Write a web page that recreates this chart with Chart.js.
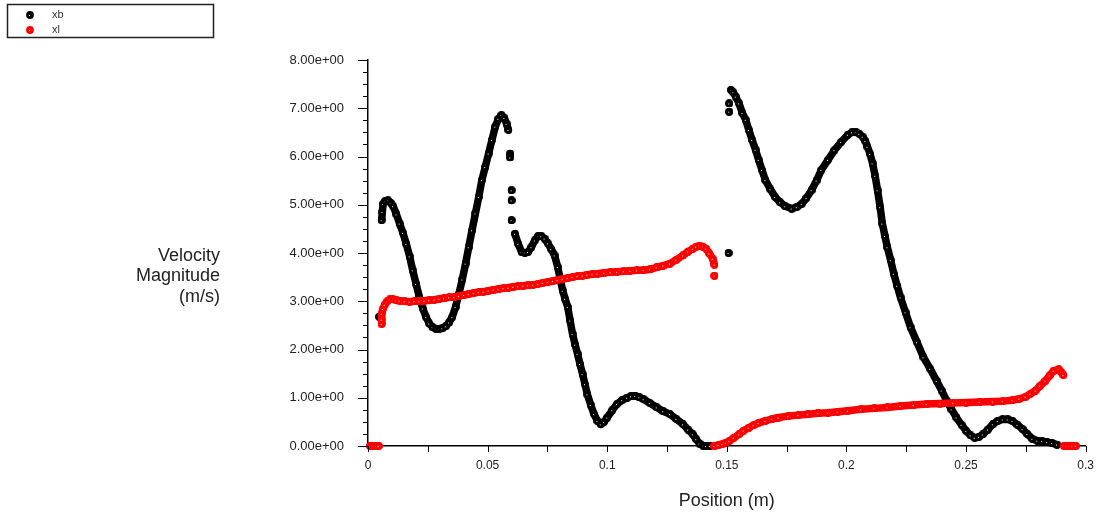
<!DOCTYPE html>
<html>
<head>
<meta charset="utf-8">
<script src="https://cdn.jsdelivr.net/npm/chart.js@4/dist/chart.umd.min.js"></script>
<style>
  body { margin: 0; background: #fff; }
  canvas { display: block; }
</style>
</head>
<body>
<canvas id="myChart" width="1106" height="518"></canvas>
<script>
// xb series (black), position in m / velocity in m/s, null = gap between dot runs
var xbPos = [0.0047, null,
  0.0057, 0.0060, 0.0063, 0.0072, 0.0084, 0.0095, 0.0105, 0.0119, 0.0132,
  0.0146, 0.0160, 0.0174, 0.0187, 0.0201, 0.0215, 0.0229, 0.0243, 0.0256, 0.0270,
  0.0284, 0.0298, 0.0311, 0.0325, 0.0339, 0.0352, 0.0366, 0.0380, 0.0394, 0.0408,
  0.0421, 0.0435, 0.0449, 0.0463, 0.0476, 0.0490, 0.0504, 0.0518, 0.0532, 0.0545,
  0.0558, 0.0570, 0.0579, 0.0587, null,
  0.0594, 0.0594, null, 0.0600, null, 0.0600, null, 0.0600, null,
  0.0614, 0.0628, 0.0642, 0.0656, 0.0669, 0.0683, 0.0697, 0.0711, 0.0725, 0.0738, 0.0752,
  0.0766, 0.0780, 0.0793, 0.0804, 0.0814, 0.0824, 0.0835, 0.0845, 0.0855, 0.0866,
  0.0876, 0.0886, 0.0897, 0.0907, 0.0917, 0.0931, 0.0945, 0.0959, 0.0973, 0.0987,
  0.1000, 0.1021, 0.1041, 0.1062, 0.1083, 0.1099, 0.1117, 0.1134, 0.1152, 0.1178,
  0.1207, 0.1234, 0.1262, 0.1289, 0.1317, 0.1338, 0.1358, 0.1372, 0.1386, 0.1400,
  0.1413, 0.1430, null, 0.1507, null,
  0.1510, null, 0.1510, null,
  0.1517, 0.1527, 0.1537, 0.1551, 0.1565, 0.1579, 0.1592, 0.1606,
  0.1620, 0.1633, 0.1647, 0.1661, 0.1682, 0.1702, 0.1723, 0.1744, 0.1771, 0.1792,
  0.1813, 0.1833, 0.1854, 0.1875, 0.1895, 0.1923, 0.1950, 0.1978, 0.2006, 0.2023,
  0.2040, 0.2054, 0.2068, 0.2079, 0.2088, 0.2099, 0.2109, 0.2120, 0.2130, 0.2141,
  0.2150, 0.2161, 0.2171, 0.2185, 0.2198, 0.2212, 0.2226, 0.2247, 0.2268, 0.2295,
  0.2322, 0.2350, 0.2377, 0.2398, 0.2419, 0.2439, 0.2460, 0.2481, 0.2501, 0.2519,
  0.2536, 0.2554, 0.2570, 0.2591, 0.2612, 0.2632, 0.2653, 0.2674, 0.2694, 0.2715,
  0.2736, 0.2756, 0.2777, 0.2798, 0.2818, 0.2839, 0.2860, 0.2880];
var xbVel = [2.68, null,
  4.68, 4.85, 5.02, 5.08, 5.09, 5.04, 4.97, 4.80, 4.61,
  4.42, 4.19, 3.93, 3.64, 3.36, 3.08, 2.85, 2.67, 2.54, 2.46,
  2.43, 2.43, 2.44, 2.48, 2.56, 2.67, 2.88, 3.15, 3.45, 3.78,
  4.12, 4.47, 4.82, 5.16, 5.51, 5.78, 6.06, 6.34, 6.62, 6.78,
  6.86, 6.80, 6.68, 6.55, null,
  6.06, 5.98, null, 5.30, null, 5.09, null, 4.68, null,
  4.40, 4.19, 4.02, 4.00, 4.02, 4.12, 4.26, 4.35, 4.35, 4.30, 4.20,
  4.08, 3.95, 3.71, 3.45, 3.22, 3.05, 2.88, 2.60, 2.32, 2.10,
  1.91, 1.70, 1.49, 1.28, 1.07, 0.85, 0.66, 0.52, 0.45, 0.50,
  0.59, 0.74, 0.87, 0.95, 1.00, 1.03, 1.04, 1.01, 0.97, 0.89,
  0.80, 0.72, 0.66, 0.56, 0.45, 0.34, 0.24, 0.14, 0.05, 0.01,
  0.00, 0.00, null, 4.00, null,
  6.93, null, 7.10, null,
  7.38, 7.33, 7.24, 7.10, 6.90, 6.76, 6.55, 6.34,
  6.14, 5.93, 5.72, 5.51, 5.32, 5.16, 5.05, 4.97, 4.92, 4.95,
  5.02, 5.14, 5.30, 5.50, 5.72, 5.93, 6.13, 6.30, 6.45, 6.50,
  6.51, 6.47, 6.41, 6.32, 6.20, 6.05, 5.86, 5.60, 5.30, 4.95,
  4.61, 4.35, 4.12, 3.85, 3.57, 3.32, 3.08, 2.77, 2.46, 2.15,
  1.84, 1.60, 1.35, 1.15, 0.94, 0.76, 0.59, 0.44, 0.31, 0.22,
  0.17, 0.19, 0.24, 0.34, 0.45, 0.52, 0.55, 0.55, 0.52, 0.44,
  0.35, 0.25, 0.15, 0.11, 0.10, 0.08, 0.06, 0.03];

// xl series (red)
var xlPos = [0.0008, 0.0021, 0.0033, 0.0045, null,
  0.0057, 0.0057, 0.0057, 0.0062, 0.0070, 0.0081,
  0.0091, 0.0105, 0.0119, 0.0132, 0.0153, 0.0174, 0.0194, 0.0215, 0.0236, 0.0256,
  0.0277, 0.0298, 0.0318, 0.0339, 0.0360, 0.0380, 0.0401, 0.0421, 0.0442, 0.0463,
  0.0483, 0.0504, 0.0525, 0.0545, 0.0566, 0.0587, 0.0607, 0.0628, 0.0649, 0.0669,
  0.0690, 0.0711, 0.0731, 0.0752, 0.0773, 0.0793, 0.0814, 0.0835, 0.0855, 0.0876,
  0.0897, 0.0917, 0.0938, 0.0959, 0.0987, 0.1014, 0.1041, 0.1069, 0.1096, 0.1124,
  0.1152, 0.1179, 0.1207, 0.1234, 0.1262, 0.1289, 0.1317, 0.1338, 0.1358, 0.1372,
  0.1386, 0.1400, 0.1413, 0.1427, 0.1441, 0.1448, null, 0.1448, null,
  0.1448, 0.1465, 0.1482, 0.1496, 0.1510, 0.1529, 0.1551, 0.1570, 0.1592, 0.1612,
  0.1633, 0.1661, 0.1689, 0.1716, 0.1757, 0.1799, 0.1840, 0.1881, 0.1923, 0.1964,
  0.2006, 0.2061, 0.2116, 0.2171, 0.2226, 0.2281, 0.2336, 0.2391, 0.2446, 0.2501,
  0.2557, 0.2612, 0.2653, 0.2694, 0.2723, 0.2749, 0.2769, 0.2791, 0.2810, 0.2832,
  0.2849, 0.2866, 0.2887, 0.2898, 0.2907, null,
  0.2909, 0.2921, 0.2934, 0.2946, 0.2959];
var xlVel = [0, 0, 0, 0, null,
  2.53, 2.62, 2.74, 2.84, 2.93, 3.00,
  3.04, 3.04, 3.02, 3.01, 3.00, 2.99, 3.00, 3.00, 3.01, 3.02,
  3.03, 3.05, 3.06, 3.08, 3.09, 3.11, 3.13, 3.15, 3.17, 3.19,
  3.20, 3.22, 3.24, 3.25, 3.27, 3.28, 3.30, 3.31, 3.32, 3.33,
  3.34, 3.36, 3.38, 3.40, 3.42, 3.44, 3.46, 3.48, 3.50, 3.52,
  3.53, 3.55, 3.56, 3.57, 3.59, 3.60, 3.61, 3.62, 3.63, 3.64,
  3.65, 3.66, 3.70, 3.74, 3.78, 3.86, 3.95, 4.03, 4.09, 4.13,
  4.15, 4.13, 4.09, 3.99, 3.88, 3.76, null, 3.53, null,
  0.00, 0.02, 0.04, 0.07, 0.10, 0.17, 0.24, 0.32, 0.38, 0.43,
  0.48, 0.52, 0.56, 0.59, 0.62, 0.64, 0.66, 0.68, 0.69, 0.71,
  0.73, 0.76, 0.78, 0.80, 0.83, 0.85, 0.87, 0.88, 0.89, 0.90,
  0.91, 0.92, 0.93, 0.95, 0.98, 1.02, 1.08, 1.15, 1.25, 1.35,
  1.46, 1.56, 1.59, 1.53, 1.47, null,
  0, 0, 0, 0, 0];

var seriesNames = ['xb', 'xl'];
var seriesColors = ['#000000', '#ff0000'];
var yTitle = ['Velocity', 'Magnitude', '(m/s)'];
var xTitle = 'Position (m)';

function toPoints(xs, ys) {
  return xs.map(function (x, i) { return { x: x, y: ys[i] }; });
}

// fluent style marker: filled dot with one white pixel
function makeMarker(color) {
  var c = document.createElement('canvas');
  c.width = 8; c.height = 8;
  var g = c.getContext('2d');
  g.fillStyle = color;
  g.beginPath();
  g.arc(4, 4, 3.9, 0, Math.PI * 2);
  g.fill();
  g.fillStyle = '#fff';
  g.fillRect(3, 4, 1, 1);
  return c;
}
var markers = seriesColors.map(makeMarker);

var FONT = '"Liberation Sans", Arial, sans-serif';

var extras = {
  id: 'extras',
  afterDraw: function (chart) {
    var ctx = chart.ctx, xs = chart.scales.x, ys = chart.scales.y, area = chart.chartArea;
    ctx.save();
    // tick marks
    ctx.strokeStyle = '#000';
    ctx.lineWidth = 1;
    ctx.beginPath();
    ys.ticks.forEach(function (t) {
      var py = Math.round(ys.getPixelForValue(t.value)) + 0.5;
      var major = Math.abs(t.value - Math.round(t.value)) < 1e-6;
      ctx.moveTo(area.left - (major ? 10 : 5), py);
      ctx.lineTo(area.left, py);
    });
    xs.ticks.forEach(function (t) {
      var px = Math.round(xs.getPixelForValue(t.value)) + 0.5;
      ctx.moveTo(px, area.bottom);
      ctx.lineTo(px, area.bottom + 6);
    });
    ctx.stroke();

    // y title, horizontal and right aligned
    ctx.fillStyle = '#222';
    ctx.font = '18px ' + FONT;
    ctx.textAlign = 'right';
    ctx.textBaseline = 'middle';
    yTitle.forEach(function (line, i) {
      ctx.fillText(line, 220, 256 + i * 20.5);
    });

    // legend box
    ctx.strokeStyle = '#222';
    ctx.lineWidth = 1.5;
    ctx.strokeRect(7.5, 4.5, 206, 33);
    ctx.font = '11px ' + FONT;
    ctx.textAlign = 'left';
    ctx.fillStyle = '#333';
    markers.forEach(function (m, i) {
      ctx.drawImage(m, 26, 11 + i * 15);
      ctx.fillText(seriesNames[i], 52, 15 + i * 15);
    });
    ctx.restore();
  }
};

function makeSet(i, xs, ys, order) {
  return {
    label: seriesNames[i],
    data: toPoints(xs, ys),
    showLine: true,
    spanGaps: false,
    borderWidth: 7.5,
    borderColor: seriesColors[i],
    backgroundColor: seriesColors[i],
    borderCapStyle: 'round',
    borderJoinStyle: 'round',
    tension: 0,
    pointStyle: markers[i],
    clip: false,
    order: order
  };
}

var ctx = document.getElementById('myChart').getContext('2d');
var myChart = new Chart(ctx, {
  type: 'scatter',
  data: {
    datasets: [makeSet(0, xbPos, xbVel, 2), makeSet(1, xlPos, xlVel, 1)]
  },
  options: {
    responsive: false,
    animation: false,
    layout: { padding: { left: 0, top: 60, right: 12, bottom: 0 } },
    plugins: { legend: { display: false }, tooltip: { enabled: false } },
    scales: {
      x: {
        type: 'linear',
        min: 0,
        max: 0.3,
        afterFit: function (s) { s.height = 72; },
        grid: { display: false, drawTicks: false },
        border: { display: true, color: '#000', width: 1.5 },
        ticks: {
          stepSize: 0.025,
          autoSkip: false,
          maxRotation: 0,
          padding: 12,
          color: '#222',
          font: { family: FONT, size: 12 },
          callback: function (v) {
            var k = v * 20;
            if (Math.abs(k - Math.round(k)) > 1e-6) return '';
            return String(Number(v.toFixed(3)));
          }
        },
        title: {
          display: true,
          text: xTitle,
          color: '#222',
          font: { family: FONT, size: 18 },
          padding: { top: 0, bottom: 6 }
        }
      },
      y: {
        min: 0,
        max: 8,
        afterFit: function (s) { s.width = 368; },
        grid: { display: false, drawTicks: false },
        border: { display: true, color: '#000', width: 1.5 },
        ticks: {
          stepSize: 0.25,
          autoSkip: false,
          padding: 24,
          color: '#222',
          font: { family: FONT, size: 13 },
          callback: function (v) {
            if (Math.abs(v - Math.round(v)) > 1e-6) return '';
            return v.toFixed(2) + 'e+00';
          }
        }
      }
    }
  },
  plugins: [extras]
});
</script>
</body>
</html>
